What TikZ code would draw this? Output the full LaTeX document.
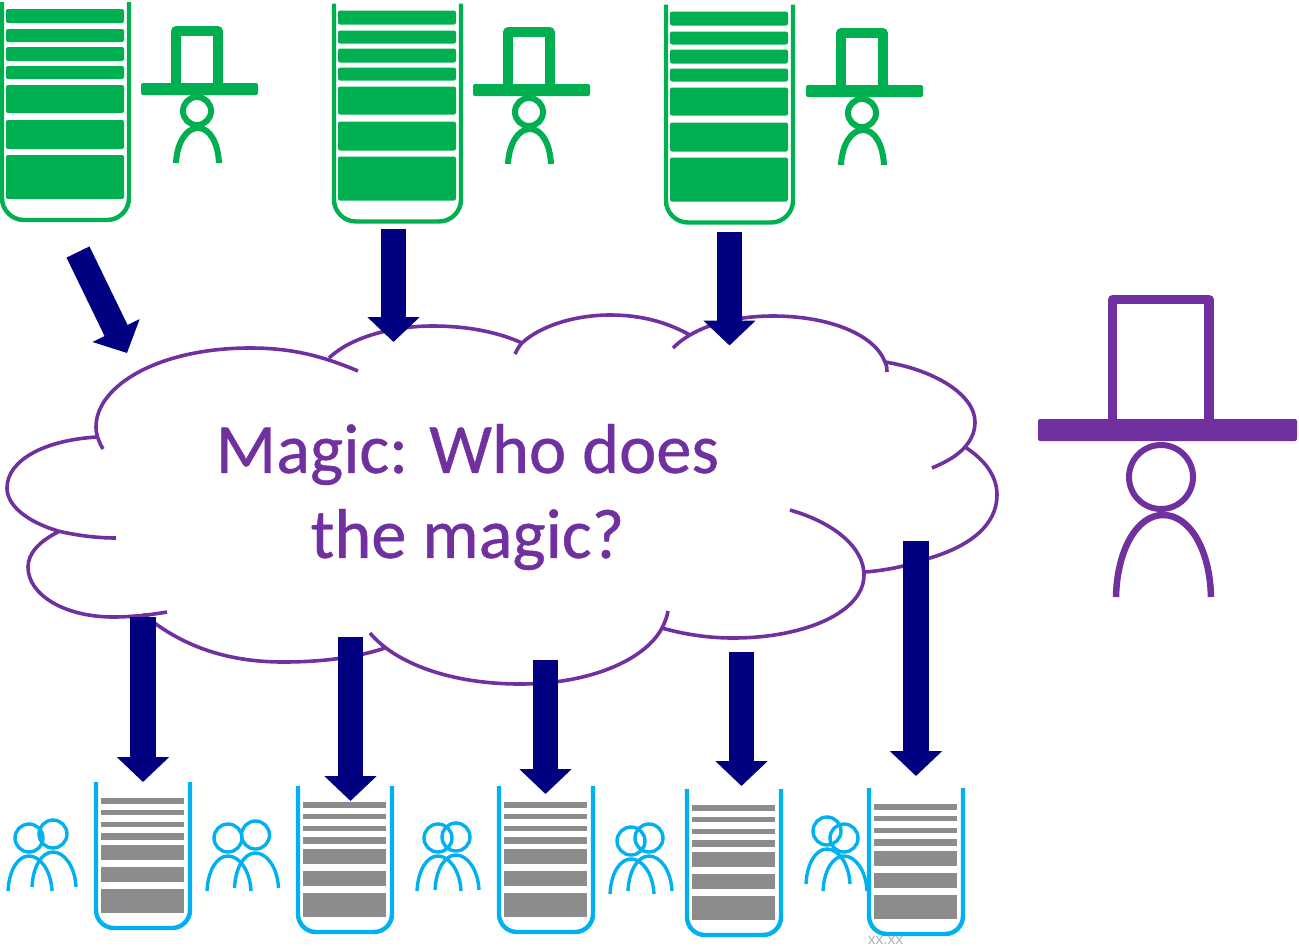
\documentclass[tikz,border=0pt]{standalone}
\usepackage{fontspec}
\newfontfamily\magicfont[FakeBold=0.6]{Carlito}
\newfontfamily\stampfont{Liberation Sans}
\usetikzlibrary{arrows.meta}

\definecolor{magicpurple}{HTML}{7030A0}
\definecolor{magicgreen}{HTML}{00B050}
\definecolor{magicblue}{HTML}{00B0F0}
\definecolor{magicnavy}{HTML}{000080}
\definecolor{magicgrey}{HTML}{8C8C8C}

\tikzset{
  cloudline/.style={draw=magicpurple,line width=3.6pt,line cap=butt},
  magicarrow/.style={draw=magicnavy,line width=25.5pt,
    -{Triangle[length=25pt,width=51pt,fill=magicnavy]}},
  greenbar/.style={fill=magicgreen,rounded corners=2pt},
  greybar/.style={fill=magicgrey},
  greenstack/.pic={
    \draw[magicgreen,line width=4.4pt,rounded corners=22pt] (0,0) -- (0,218) -- (127,218) -- (127,0);
    \path[greenbar] (4,7) rectangle (122,21);
    \path[greenbar] (4,27) rectangle (122,40);
    \path[greenbar] (4,45) rectangle (122,59);
    \path[greenbar] (4,64) rectangle (122,77);
    \path[greenbar] (4,83) rectangle (122,111);
    \path[greenbar] (4,118) rectangle (122,147);
    \path[greenbar] (4,153) rectangle (122,197);
  },
  greystack/.pic={
    \draw[magicblue,line width=4.4pt,rounded corners=18pt] (0,0) -- (0,146) -- (94,146) -- (94,0);
    \path[greybar] (5,16) rectangle (88,22);
    \path[greybar] (5,28) rectangle (88,33);
    \path[greybar] (5,40) rectangle (88,45);
    \path[greybar] (5,51) rectangle (88,58);
    \path[greybar] (5,63) rectangle (88,78);
    \path[greybar] (5,85) rectangle (88,100);
    \path[greybar] (5,107) rectangle (88,131);
  },
  wizard/.pic={
    \draw[magicgreen,line width=9.5pt,line join=round] (-21,-28) -- (-21,-80) -- (21,-80) -- (21,-28);
    \path[fill=magicgreen,rounded corners=2pt] (-56,-28) rectangle (61,-16);
    \draw[magicgreen,line width=6pt] (0,0) circle[radius=14];
    \draw[magicgreen,line width=6pt] (-21,52) .. controls (-20,32) and (-11,17) .. (1,17) .. controls (13,17) and (21,32) .. (22,52);
  },
  teammate/.pic={
    \draw[magicblue,line width=3.4pt] (0,0) circle[radius=14];
    \draw[magicblue,line width=3.4pt] (-21,53) .. controls (-20,32) and (-11,18) .. (0,18) .. controls (11,18) and (22,32) .. (23,53);
  }
}

\begin{document}
\begin{tikzpicture}[x=1pt,y=-1pt]
  \useasboundingbox (0,0) rectangle (1299,946);

  % cloud
  \draw[cloudline] (358,371) .. controls (320,355) and (290,348) .. (250,348) .. controls (160,348) and (96,385) .. (96,427) .. controls (96,435) and (99,442) .. (103,449);
  \draw[cloudline] (329,358) .. controls (350,338) and (390,326) .. (433,326) .. controls (470,326) and (500,333) .. (522,343);
  \draw[cloudline] (515,354) .. controls (517,350) and (519,346) .. (522,343) .. controls (540,326) and (575,315) .. (610,315) .. controls (645,315) and (670,324) .. (690,335);
  \draw[cloudline] (673,348) .. controls (680,341) and (685,338) .. (690,335) .. controls (710,323) and (740,316) .. (773,316) .. controls (830,316) and (875,335) .. (885,362) .. controls (887,366) and (887,369) .. (887,372);
  \draw[cloudline] (885,362) .. controls (935,370) and (975,395) .. (975,422) .. controls (975,432) and (971,440) .. (965,447) .. controls (957,456) and (946,462) .. (932,468);
  \draw[cloudline] (965,447) .. controls (985,460) and (997,476) .. (997,495) .. controls (997,525) and (970,546) .. (930,558) .. controls (910,565) and (890,570) .. (865,572);
  \draw[cloudline] (790,510) .. controls (835,523) and (864,548) .. (864,575) .. controls (864,612) and (805,638) .. (733,638) .. controls (707,638) and (683,634) .. (662,628);
  \draw[cloudline] (668,611) .. controls (667,617) and (665,622) .. (662,628) .. controls (645,660) and (590,684) .. (520,684) .. controls (450,684) and (395,663) .. (370,633);
  \draw[cloudline] (385,648) .. controls (355,658) and (320,662) .. (283,662) .. controls (225,662) and (180,645) .. (143,614);
  \draw[cloudline] (167,612) .. controls (150,615) and (130,617) .. (113,617) .. controls (65,617) and (28,595) .. (28,567) .. controls (28,553) and (40,541) .. (58,532);
  \draw[cloudline] (116,538) .. controls (95,538) and (75,535) .. (58,531) .. controls (28,522) and (7,506) .. (7,488) .. controls (7,460) and (45,440) .. (97,437);

  \node (magictext) at (467.5,497) [text=magicpurple,font=\magicfont\fontsize{70.5}{85}\selectfont,align=center] {Magic: Who does\\the magic?};

  % wizards with their stacks
  \pic (stack1) at (2,2) {greenstack};
  \pic (stack2) at (334,3.5) {greenstack};
  \pic (stack3) at (666,4.5) {greenstack};
  \pic (wizard1) at (197,111) {wizard};
  \pic (wizard2) at (529,112) {wizard};
  \pic (wizard3) at (862,113) {wizard};

  % head wizard
  \draw[magicpurple,line width=9.5pt,line join=round] (1112.5,419) -- (1112.5,299.7) -- (1209,299.7) -- (1209,419);
  \path[fill=magicpurple,rounded corners=2pt] (1038,419) rectangle (1297,441);
  \draw[magicpurple,line width=6pt] (1161,477) circle[radius=32];
  \draw[magicpurple,line width=6.5pt] (1116,597) .. controls (1117,550) and (1137,515) .. (1163,515) .. controls (1190,515) and (1210,550) .. (1211,597);

  % users with their stacks
  \pic (users1) at (96,782) {greystack};
  \pic (users2) at (298,786) {greystack};
  \pic (users3) at (499,786) {greystack};
  \pic (users4) at (687,789) {greystack};
  \pic (users5) at (869,788) {greystack};
  \pic (mate1a) at (29,838) {teammate};
  \pic (mate1b) at (53,834) {teammate};
  \pic (mate2a) at (228,838) {teammate};
  \pic (mate2b) at (255.5,835) {teammate};
  \pic (mate3a) at (438,838) {teammate};
  \pic (mate3b) at (456,837) {teammate};
  \pic (mate4a) at (631,841) {teammate};
  \pic (mate4b) at (649,838) {teammate};
  \pic (mate5a) at (827,831) {teammate};
  \pic (mate5b) at (844,838) {teammate};

  % arrows
  \coordinate (from1) at (78,252);
  \coordinate (to1) at (127,353);
  \coordinate (from2) at (393.5,229);
  \coordinate (to2) at (393.5,342);
  \coordinate (from3) at (729.5,232);
  \coordinate (to3) at (729.5,345.5);
  \coordinate (from4) at (143,617);
  \coordinate (to4) at (143,782);
  \coordinate (from5) at (350.5,637);
  \coordinate (to5) at (350.5,801);
  \coordinate (from6) at (545.5,660);
  \coordinate (to6) at (545.5,794);
  \coordinate (from7) at (741.5,652);
  \coordinate (to7) at (741.5,786);
  \coordinate (from8) at (916,541);
  \coordinate (to8) at (916,776);
  \draw[magicarrow] (from1) -- (to1);
  \draw[magicarrow] (from2) -- (to2);
  \draw[magicarrow] (from3) -- (to3);
  \draw[magicarrow] (from4) -- (to4);
  \draw[magicarrow] (from5) -- (to5);
  \draw[magicarrow] (from6) -- (to6);
  \draw[magicarrow] (from7) -- (to7);
  \draw[magicarrow] (from8) -- (to8);

  \node (stamp) at (885.5,940) [text=black!30,inner sep=0pt,font=\stampfont\fontsize{15.5}{16}\selectfont] {xx.xx};
\end{tikzpicture}
\end{document}
